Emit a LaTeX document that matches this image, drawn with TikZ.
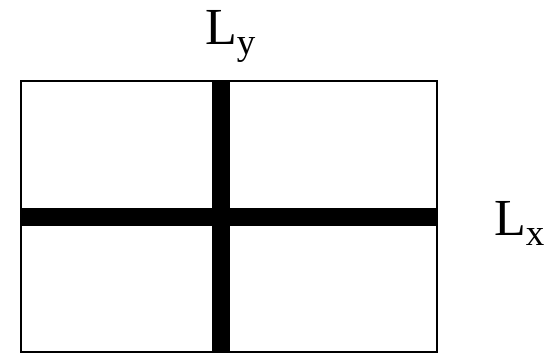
\documentclass[tikz,border=0pt]{standalone}
\usepackage{fontspec}
\setmainfont{Liberation Serif}
\newcommand{\labsub}[2]{#1\raisebox{-10pt}{\fontsize{37}{37}\selectfont #2}}
\tikzset{
  frame/.style={draw=black, line width=2.5pt},
  bar/.style={draw=none, fill=black},
  lab/.style={inner sep=0pt, anchor=base west, font=\fontsize{52}{52}\selectfont}
}
\begin{document}
\begin{tikzpicture}[x=1pt,y=-1pt]
\useasboundingbox (0,0) rectangle (550,354);
\fill[bar] (21,208) rectangle (437,226);
\fill[bar] (212,81) rectangle (230,352);
\draw[frame] (21,81) rectangle (437,352);
\node[lab] (ly) at (205,44) {\labsub{L}{y}};
\node[lab] (lx) at (494,235) {\labsub{L}{x}};
\end{tikzpicture}
\end{document}
